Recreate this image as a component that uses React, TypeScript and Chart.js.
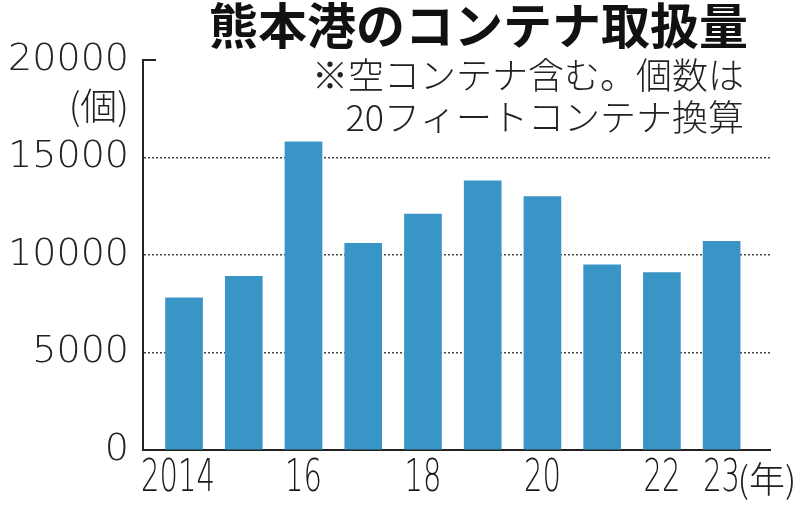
import React, { useEffect, useRef } from "react";
import { Chart, registerables } from "chart.js";

Chart.register(...registerables);

const years = [2014, 2015, 2016, 2017, 2018, 2019, 2020, 2021, 2022, 2023];
const values = [7800, 8900, 15800, 10600, 12100, 13800, 13000, 9500, 9100, 10700];
const xTickValues = [2014, 2016, 2018, 2020, 2022, 2023];
const xTickLabels = ["2014", "16", "18", "20", "22", "23"];
const yTickValues = [0, 5000, 10000, 15000, 20000];

const titleText = "熊本港のコンテナ取扱量";
const noteLines = ["※空コンテナ含む。個数は", "20フィートコンテナ換算"];
const yUnit = "(個)";
const xUnit = "(年)";

const BAR_COLOR = "#3895c5";
const CJK = '"Noto Sans CJK JP", "Noto Sans", sans-serif';

export default function App() {
  const ref = useRef<HTMLCanvasElement | null>(null);

  useEffect(() => {
    document.body.style.margin = "0";
    const canvas = ref.current;
    if (!canvas) return;

    const textPlugin = {
      id: "texts",
      afterDraw(chart: any) {
        const ctx = chart.ctx;
        const xs = chart.scales.x;
        const ys = chart.scales.y;
        ctx.save();
        // top tick at 20000
        ctx.strokeStyle = "#222";
        ctx.lineWidth = 2;
        const yTop = ys.getPixelForValue(yTickValues[yTickValues.length - 1]);
        ctx.beginPath();
        ctx.moveTo(chart.chartArea.left, yTop);
        ctx.lineTo(chart.chartArea.left + 13, yTop);
        ctx.stroke();

        // x tick labels (condensed)
        ctx.fillStyle = "#1a1a1a";
        ctx.textBaseline = "middle";
        ctx.textAlign = "center";
        ctx.font = `300 44px "DejaVu Sans", sans-serif`;
        const sx = 0.66;
        xTickValues.forEach((v, i) => {
          const px = xs.getPixelForValue(v) - (i === 0 ? 6 : 0);
          ctx.save();
          ctx.translate(px, 480);
          ctx.scale(sx, 1);
          ctx.fillText(xTickLabels[i], 0, 0);
          ctx.restore();
        });

        ctx.fillStyle = "#111";
        ctx.textAlign = "right";
        ctx.font = `bold 49px ${CJK}`;
        ctx.fillText(titleText, 748, 25);
        ctx.font = `300 36px ${CJK}`;
        ctx.fillStyle = "#222";
        ctx.fillText(noteLines[0], 744, 75);
        ctx.fillText(noteLines[1], 744, 117);
        ctx.font = `300 37px ${CJK}`;
        ctx.fillText(yUnit, 129, 106);
        ctx.textAlign = "left";
        ctx.font = `300 36px ${CJK}`;
        const x23 = xs.getPixelForValue(xTickValues[xTickValues.length - 1]);
        ctx.fillText(xUnit, x23 + 16, 479);
        ctx.restore();
      },
    };

    const chart = new Chart(canvas, {
      type: "bar",
      data: {
        datasets: [
          {
            data: years.map((y, i) => ({ x: y, y: values[i] })),
            backgroundColor: BAR_COLOR,
            borderWidth: 0,
            barThickness: 37,
          },
        ],
      },
      options: {
        animation: false,
        responsive: false,
        devicePixelRatio: 1,
        layout: { padding: { left: 0, right: 30, top: 60, bottom: 0 } },
        plugins: {
          legend: { display: false },
          tooltip: { enabled: false },
          title: { display: false },
        },
        scales: {
          x: {
            type: "linear",
            offset: false,
            min: 2013.313,
            max: 2023.81,
            afterBuildTicks: (scale: any) => {
              scale.ticks = xTickValues.map((v) => ({ value: v }));
            },
            afterFit: (scale: any) => {
              scale.height = 55;
            },
            ticks: {
              display: false,
              autoSkip: false,
              maxRotation: 0,
              callback: (v: any) => {
                const i = xTickValues.indexOf(Number(v));
                return i >= 0 ? xTickLabels[i] : "";
              },
            },
            grid: { display: true, offset: false, drawOnChartArea: false, drawTicks: false },
            border: { display: true, color: "#222", width: 2 },
          },
          y: {
            min: 0,
            max: 20000,
            afterBuildTicks: (scale: any) => {
              scale.ticks = yTickValues.map((v) => ({ value: v }));
            },
            afterFit: (scale: any) => {
              scale.width = 143;
            },
            ticks: {
              padding: 14,
              color: "#222",
              font: { family: '"DejaVu Sans", sans-serif', size: 38, weight: "300" },
              callback: (v: any) => String(v),
            },
            grid: {
              drawTicks: false,
              color: (ctx: any) =>
                ctx.tick && ctx.tick.value > 0 && ctx.tick.value < 20000 ? "#444" : "rgba(0,0,0,0)",
              lineWidth: 1.5,
            },
            border: { display: true, color: "#222", width: 2, dash: [2, 2] },
          },
        },
      },
      plugins: [textPlugin],
    } as any);

    return () => chart.destroy();
  }, []);

  return <canvas ref={ref} width={800} height={505} style={{ display: "block" }} />;
}
